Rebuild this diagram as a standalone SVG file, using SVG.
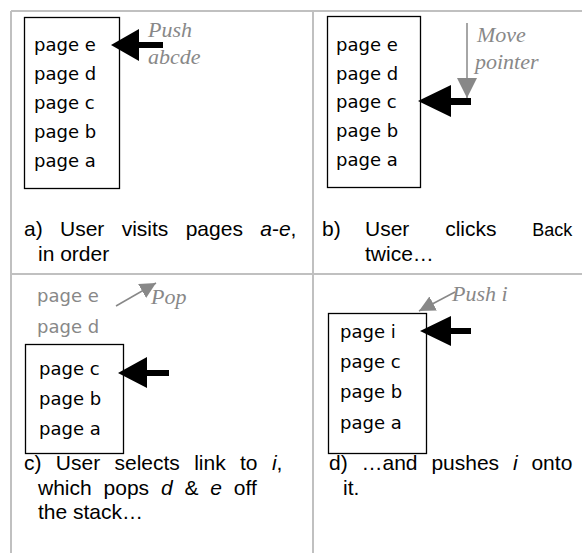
<svg xmlns="http://www.w3.org/2000/svg" width="582" height="553" viewBox="0 0 582 553">
<defs>
<style>
.grid{stroke:#c0c0c0;stroke-width:2;fill:none}
.box{fill:#fff;stroke:#000;stroke-width:1.3}
.pg{font-family:"DejaVu Sans",sans-serif;font-size:18px;fill:#000}
.pgg{font-family:"DejaVu Sans",sans-serif;font-size:18px;fill:#888}
.cap{font-family:"Liberation Sans",Arial,sans-serif;font-size:21px;fill:#000}
.lbl{font-family:"Liberation Serif","Times New Roman",serif;font-style:italic;font-size:22px;fill:#888}
.ptr{fill:#000}
.garr{stroke:#888;stroke-width:1.5;fill:none}
</style>
<marker id="gh" viewBox="0 0 20 20" refX="20" refY="10" markerWidth="20" markerHeight="20" markerUnits="userSpaceOnUse" orient="auto"><path d="M0,0 L20,10 L0,20 z" fill="#888"/></marker>
<marker id="ghs" viewBox="0 0 16 16" refX="16" refY="8" markerWidth="16" markerHeight="16" markerUnits="userSpaceOnUse" orient="auto"><path d="M0,0 L16,8 L0,16 z" fill="#888"/></marker>
</defs>
<rect width="582" height="553" fill="#fff"/>
<g id="grid">
<line class="grid" x1="11" y1="11" x2="582" y2="11"/>
<line class="grid" x1="11" y1="11" x2="11" y2="553"/>
<line class="grid" x1="11" y1="274" x2="582" y2="274"/>
<line class="grid" x1="313" y1="11" x2="313" y2="553"/>
</g>
<g id="stack-a">
<rect class="box" x="24.5" y="17.5" width="95" height="171"/>
<text class="pg" x="34" y="51">page e</text>
<text class="pg" x="34" y="80">page d</text>
<text class="pg" x="34" y="109">page c</text>
<text class="pg" x="34" y="138">page b</text>
<text class="pg" x="34" y="167">page a</text>
</g>
<g id="stack-b">
<rect class="box" x="327.5" y="16.5" width="93" height="171"/>
<text class="pg" x="336" y="51">page e</text>
<text class="pg" x="336" y="80">page d</text>
<text class="pg" x="336" y="108">page c</text>
<text class="pg" x="336" y="137">page b</text>
<text class="pg" x="336" y="166">page a</text>
</g>
<g id="stack-c">
<text class="pgg" x="37" y="302">page e</text>
<text class="pgg" x="37" y="333">page d</text>
<rect class="box" x="25.5" y="344.5" width="98" height="109"/>
<text class="pg" x="39" y="375">page c</text>
<text class="pg" x="39" y="405">page b</text>
<text class="pg" x="39" y="435">page a</text>
</g>
<g id="stack-d">
<rect class="box" x="328.5" y="313.5" width="98" height="140"/>
<text class="pg" x="340" y="338">page i</text>
<text class="pg" x="340" y="368">page c</text>
<text class="pg" x="340" y="398">page b</text>
<text class="pg" x="340" y="429">page a</text>
</g>
<g id="labels">
<text class="lbl" x="148" y="37">Push</text>
<text class="lbl" x="148" y="64">abcde</text>
<text class="lbl" x="477" y="42">Move</text>
<text class="lbl" x="475" y="69">pointer</text>
<text class="lbl" x="151" y="304">Pop</text>
<text class="lbl" x="452" y="301">Push i</text>
</g>
<g id="connectors">
<polygon class="ptr" points="111,45 139,29 139,42 163,42 163,48 139,48 139,61"/>
<polygon class="ptr" points="418,101 451,85 451,98 471,98 471,105 451,105 451,117"/>
<polygon class="ptr" points="118,373 147,357 147,370 169,370 169,376 147,376 147,388"/>
<polygon class="ptr" points="420,331 451,316 451,328 471,328 471,334 451,334 451,346"/>
<line class="garr" x1="467" y1="23" x2="467" y2="98" marker-end="url(#gh)"/>
<line class="garr" x1="116" y1="306" x2="156" y2="283" marker-end="url(#ghs)"/>
<line class="garr" x1="455" y1="292" x2="419" y2="311" marker-end="url(#ghs)"/>
</g>
<g id="captions">
<text class="cap" x="24" y="236" word-spacing="11.5">a) User visits pages <tspan font-style="italic">a</tspan>-<tspan font-style="italic">e</tspan>,</text>
<text class="cap" x="38" y="261">in order</text>
<text class="cap" x="322" y="236">b)</text>
<text class="cap" x="365" y="236" word-spacing="30">User clicks <tspan font-size="18">Back</tspan></text>
<text class="cap" x="365" y="261">twice…</text>
<text class="cap" x="24" y="470" word-spacing="8.5">c) User selects link to <tspan font-style="italic">i</tspan>,</text>
<text class="cap" x="38" y="495" word-spacing="6">which pops <tspan font-style="italic">d</tspan> &amp; <tspan font-style="italic">e</tspan> off</text>
<text class="cap" x="38" y="519">the stack…</text>
<text class="cap" x="329" y="470" word-spacing="8">d) …and pushes <tspan font-style="italic">i</tspan> onto</text>
<text class="cap" x="343" y="495">it.</text>
</g>
</svg>
